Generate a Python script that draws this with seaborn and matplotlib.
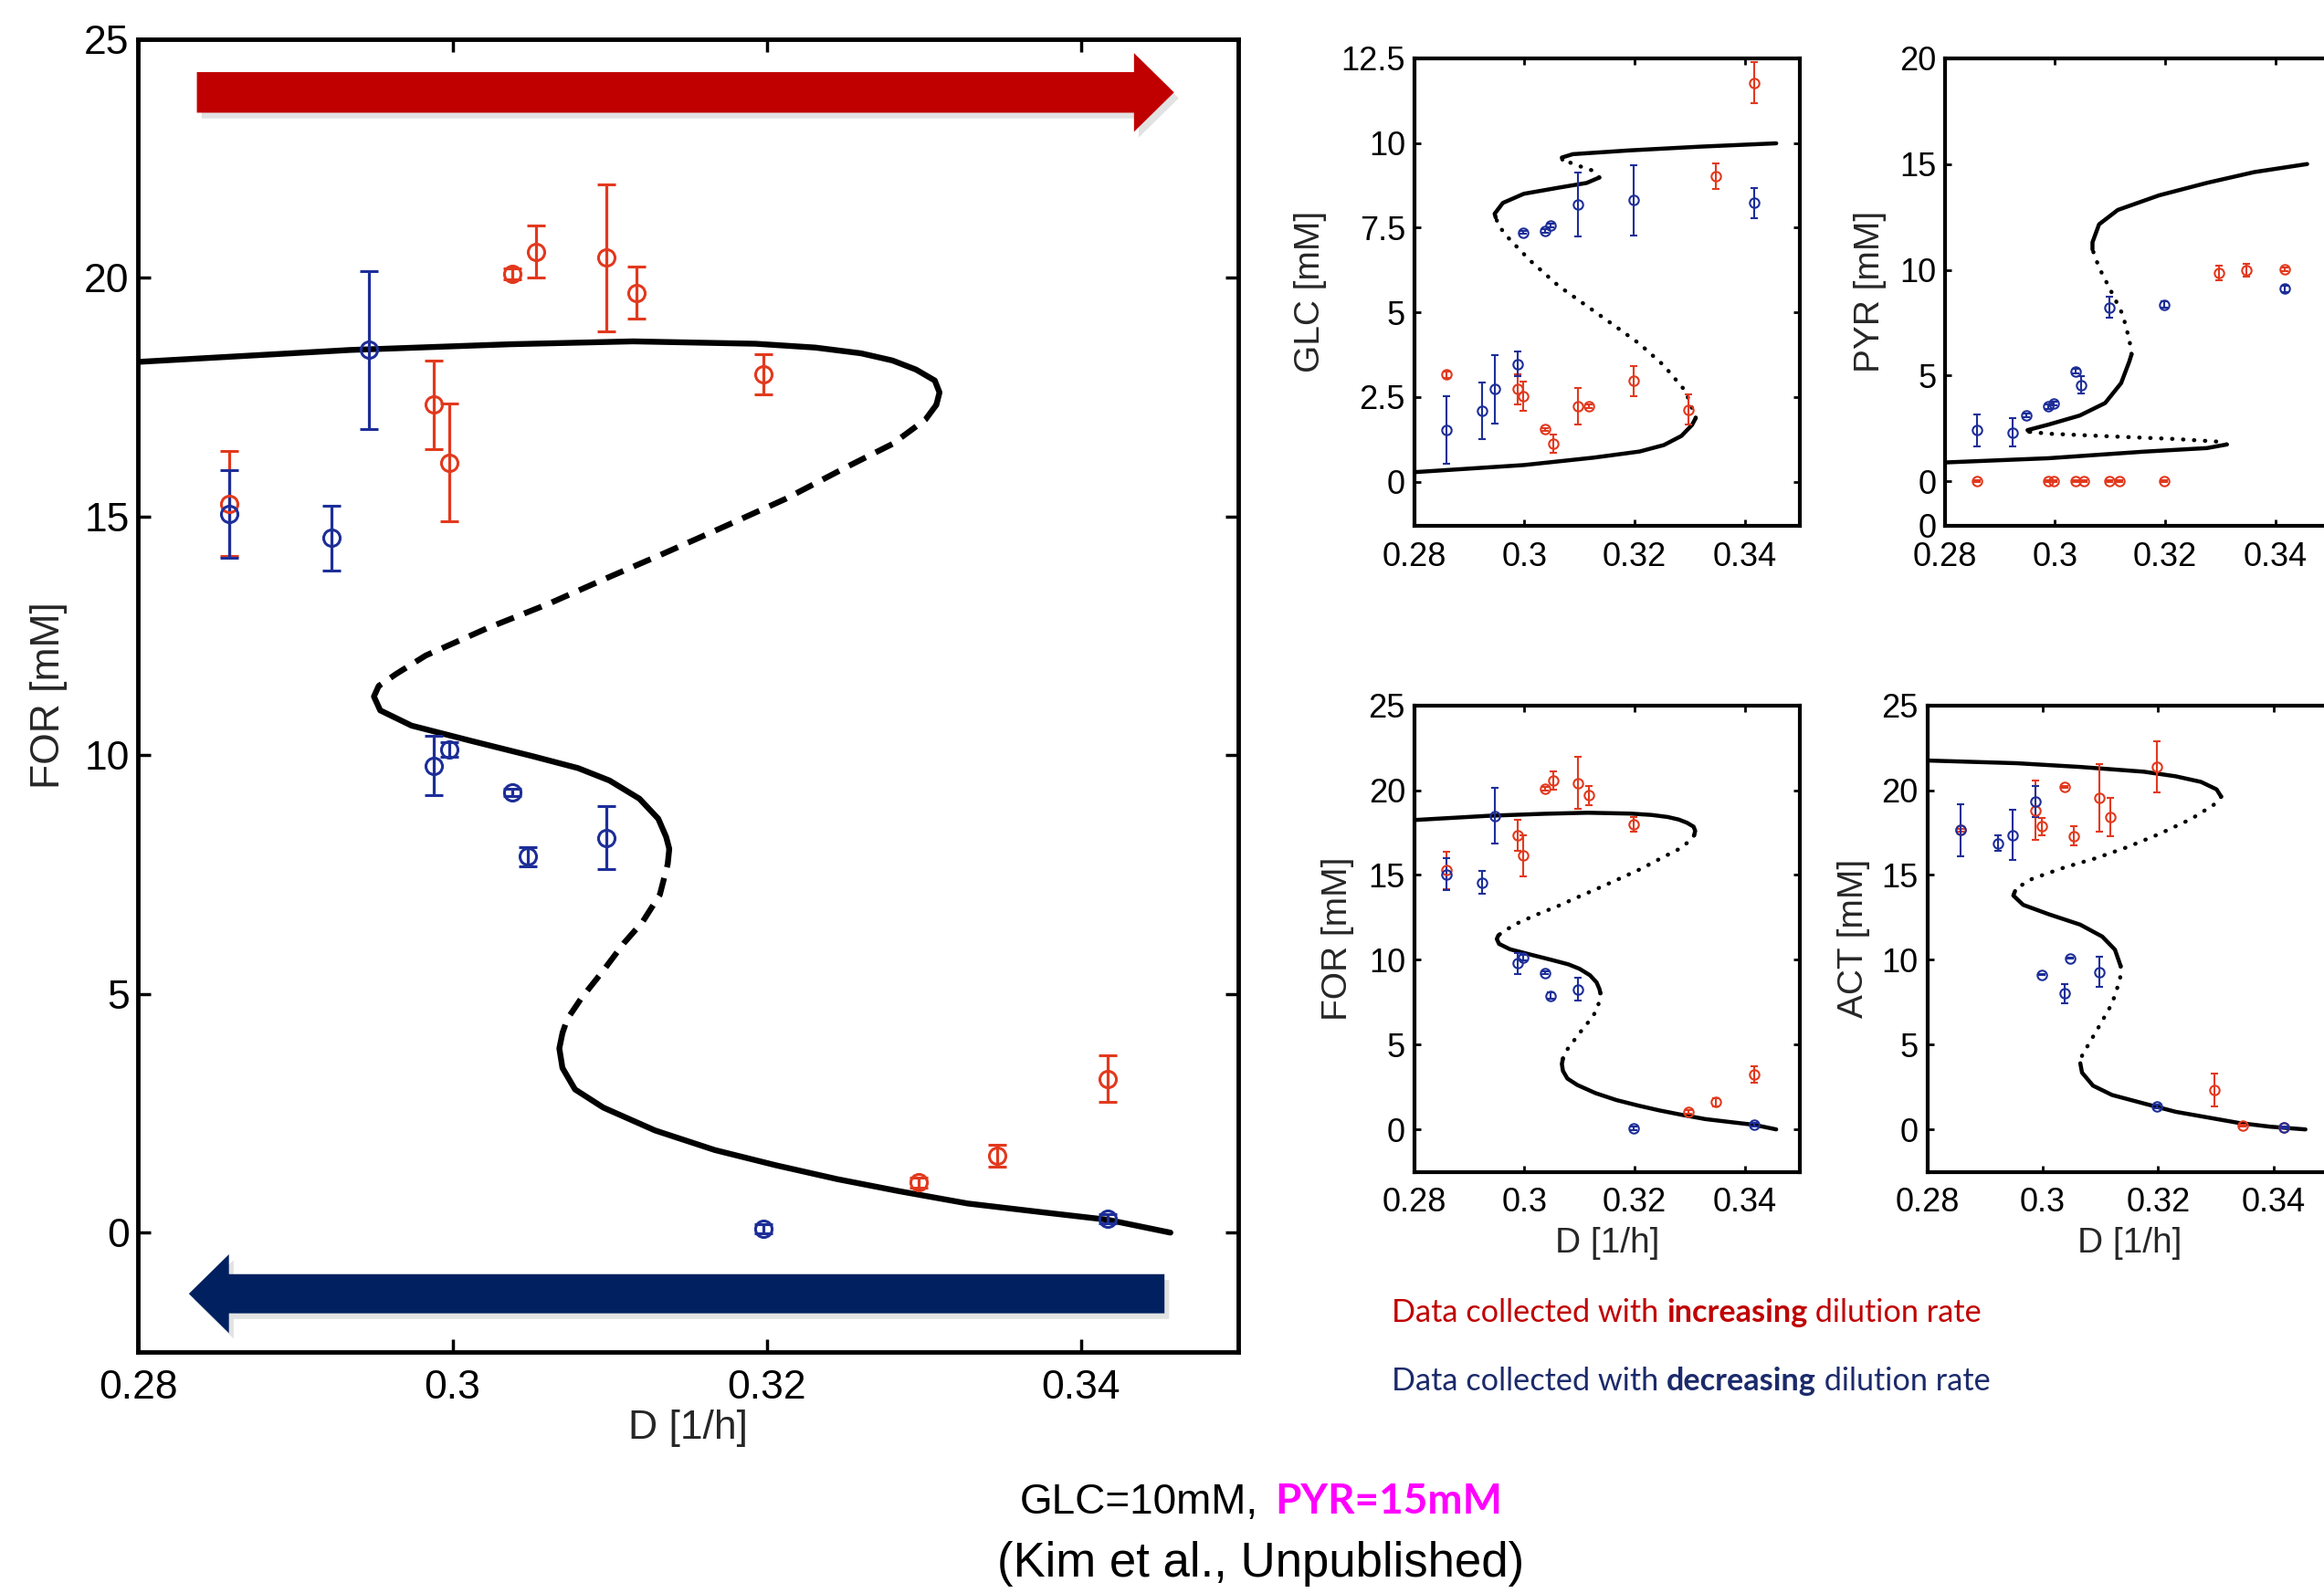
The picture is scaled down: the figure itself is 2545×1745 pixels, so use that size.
import numpy as np
import pandas as pd
import seaborn as sns
import matplotlib.pyplot as plt
from matplotlib.patches import FancyArrow

sns.set_theme(style="ticks")
plt.rcParams['font.family'] = ['Liberation Sans', 'DejaVu Sans']

# dilution rates of the measurements
D_inc = [0.2858, 0.2988, 0.2998, 0.3038, 0.3053, 0.3098, 0.3117, 0.3198, 0.3297, 0.3347, 0.3417]
D_dec = [0.2858, 0.2923, 0.2947, 0.2988, 0.2998, 0.3038, 0.3048, 0.3098, 0.3198, 0.3417]

# measured concentrations (mean, error)
FOR_inc = [15.27, 17.34, 16.13, 20.08, 20.55, 20.42, 19.69, 17.98, 1.05, 1.61, 3.22]
FOR_inc_err = [1.1, 0.93, 1.23, 0.12, 0.54, 1.54, 0.55, 0.42, 0.1, 0.23, 0.49]
FOR_dec = [15.05, 14.55, 18.49, 9.78, 10.12, 9.22, 7.88, 8.27, 0.08, 0.29]
FOR_dec_err = [0.92, 0.68, 1.66, 0.62, 0.15, 0.08, 0.2, 0.66, 0.1, 0.1]

GLC_inc = [3.16, 2.73, 2.52, 1.54, 1.13, 2.23, 2.23, 2.97, 2.13, 9.03, 11.78]
GLC_inc_err = [0.1, 0.45, 0.43, 0.05, 0.27, 0.53, 0.05, 0.45, 0.44, 0.38, 0.6]
GLC_dec = [1.53, 2.09, 2.73, 3.48, 7.36, 7.40, 7.57, 8.18, 8.31, 8.23]
GLC_dec_err = [1.0, 0.84, 1.01, 0.37, 0.05, 0.05, 0.05, 0.95, 1.03, 0.44]

PYR_inc = [0, 0, 0, 0, 0, 0, 0, 0, 9.85, 9.97, 10.02]
PYR_inc_err = [0.05, 0.05, 0.05, 0.05, 0.05, 0.05, 0.05, 0.05, 0.35, 0.3, 0.1]
PYR_dec = [2.42, 2.30, 3.11, 3.53, 3.67, 5.20, 4.56, 8.23, 8.36, 9.11]
PYR_dec_err = [0.75, 0.67, 0.1, 0.1, 0.1, 0.1, 0.42, 0.5, 0.15, 0.15]

ACT_inc = [17.64, 18.80, 17.86, 20.21, 17.31, 19.55, 18.41, 21.37, 2.32, 0.21, 0.10]
ACT_inc_err = [0.1, 1.75, 0.52, 0.05, 0.55, 1.98, 1.14, 1.5, 0.96, 0.05, 0.05]
ACT_dec = [17.64, 16.87, 17.35, 19.35, 9.13, 8.01, 10.1, 9.29, 1.37, 0.10]
ACT_dec_err = [1.55, 0.45, 1.48, 0.91, 0.05, 0.55, 0.05, 0.91, 0.1, 0.05]

# model steady states, branch by branch (stable / unstable alternate)
BRANCH_STABLE = [True, False, True, False, True]

FOR_curve_D = [
    [0.2800, 0.2935, 0.3037, 0.3115, 0.3193, 0.3231, 0.3260, 0.3280, 0.3295, 0.3307, 0.3310, 0.3308],
    [0.3308, 0.3301, 0.3280, 0.3251, 0.3212, 0.3173, 0.3134, 0.3096, 0.3061, 0.3022, 0.2983,
     0.2964, 0.2953],
    [0.2953, 0.2950, 0.2954, 0.2974, 0.3012, 0.3051, 0.3080, 0.3100, 0.3119, 0.3131, 0.3136, 0.3138],
    [0.3138, 0.3137, 0.3132, 0.3121, 0.3109, 0.3096, 0.3082, 0.3073, 0.3070],
    [0.3070, 0.3068, 0.3070, 0.3078, 0.3096, 0.3129, 0.3167, 0.3206, 0.3245, 0.3284, 0.3328,
     0.3372, 0.3417, 0.3457],
]
FOR_curve_C = [
    [18.24, 18.49, 18.61, 18.67, 18.62, 18.54, 18.42, 18.27, 18.08, 17.85, 17.60, 17.34],
    [17.34, 17.03, 16.52, 16.04, 15.37, 14.79, 14.22, 13.68, 13.17, 12.66, 12.09, 11.70, 11.45],
    [11.45, 11.23, 10.94, 10.62, 10.30, 9.98, 9.73, 9.47, 9.09, 8.67, 8.29, 8.04],
    [8.04, 7.72, 7.08, 6.51, 6.06, 5.49, 4.91, 4.47, 4.18],
    [4.18, 3.86, 3.45, 3.00, 2.62, 2.14, 1.73, 1.41, 1.12, 0.87, 0.61, 0.44, 0.27, 0.00],
]

GLC_curve_D = [
    [0.2800, 0.2999, 0.3126, 0.3209, 0.3253, 0.3285, 0.3304, 0.3311],
    [0.3311, 0.3292, 0.3253, 0.3209, 0.3164, 0.3113, 0.3062, 0.3011, 0.2973, 0.2954, 0.2948],
    [0.2948, 0.2946, 0.2961, 0.2999, 0.3062, 0.3113, 0.3136],
    [0.3136, 0.3123, 0.3094, 0.3069],
    [0.3069, 0.3068, 0.3088, 0.3190, 0.3317, 0.3457],
]
GLC_curve_C = [
    [0.28, 0.49, 0.71, 0.89, 1.08, 1.35, 1.67, 1.88],
    [1.88, 2.68, 3.43, 4.07, 4.60, 5.19, 5.78, 6.52, 7.16, 7.54, 7.80],
    [7.80, 7.91, 8.23, 8.50, 8.68, 8.82, 8.98],
    [8.98, 9.19, 9.35, 9.51],
    [9.51, 9.57, 9.67, 9.78, 9.89, 9.99],
]

PYR_curve_D = [
    [0.2800, 0.2988, 0.3161, 0.3276, 0.3312],
    [0.3312, 0.3293, 0.3218, 0.3103, 0.2988, 0.2953],
    [0.2953, 0.2950, 0.2988, 0.3045, 0.3091, 0.3120, 0.3135, 0.3139],
    [0.3139, 0.3135, 0.3123, 0.3100, 0.3080, 0.3068],
    [0.3068, 0.3068, 0.3080, 0.3114, 0.3189, 0.3276, 0.3362, 0.3458],
]
PYR_curve_C = [
    [0.89, 1.09, 1.40, 1.57, 1.74],
    [1.74, 1.88, 2.00, 2.12, 2.25, 2.34],
    [2.34, 2.42, 2.68, 3.11, 3.70, 4.64, 5.67, 6.01],
    [6.01, 6.69, 7.88, 9.08, 10.10, 10.96],
    [10.96, 11.30, 12.15, 12.83, 13.52, 14.11, 14.62, 15.00],
]

ACT_curve_D = [
    [0.2800, 0.2955, 0.3065, 0.3175, 0.3230, 0.3274, 0.3301, 0.3309],
    [0.3309, 0.3298, 0.3257, 0.3202, 0.3147, 0.3092, 0.3037, 0.2982, 0.2955, 0.2952],
    [0.2952, 0.2949, 0.2966, 0.3010, 0.3065, 0.3103, 0.3125, 0.3135],
    [0.3135, 0.3134, 0.3120, 0.3098, 0.3079, 0.3068, 0.3065],
    [0.3065, 0.3068, 0.3087, 0.3120, 0.3175, 0.3230, 0.3285, 0.3340, 0.3394, 0.3455],
]
ACT_curve_C = [
    [21.75, 21.59, 21.37, 21.09, 20.82, 20.49, 20.05, 19.62],
    [19.62, 19.18, 18.30, 17.42, 16.65, 15.99, 15.44, 14.78, 14.23, 14.05],
    [14.05, 13.79, 13.24, 12.69, 12.07, 11.37, 10.60, 9.62],
    [9.62, 8.85, 7.42, 6.10, 5.00, 4.34, 3.90],
    [3.90, 3.35, 2.58, 2.03, 1.53, 1.04, 0.71, 0.38, 0.16, 0.00],
]

# axis ticks
X_TICKS = [0.28, 0.30, 0.32, 0.34]
X_TICKLABELS = ["0.28", "0.3", "0.32", "0.34"]
FOR_TICKS = [0, 5, 10, 15, 20, 25]
FOR_TICKLABELS = ["0", "5", "10", "15", "20", "25"]
GLC_TICKS = [0, 2.5, 5, 7.5, 10, 12.5]
GLC_TICKLABELS = ["0", "2.5", "5", "7.5", "10", "12.5"]
PYR_TICKS = [-2.1, 0, 5, 10, 15, 20]
PYR_TICKLABELS = ["0", "0", "5", "10", "15", "20"]

RED = "#E2391E"
BLUE = "#1D2E98"
RED_ARROW = "#C00000"
BLUE_ARROW = "#002060"


def curve_frame(d_lists, c_lists):
    parts = []
    for i, (d, c) in enumerate(zip(d_lists, c_lists)):
        parts.append(pd.DataFrame({"D": d, "C": c, "branch": i,
                                   "stable": BRANCH_STABLE[i]}))
    return pd.concat(parts, ignore_index=True)


def draw_curve(ax, frame, lw, unstable_ls, capstyle):
    for _, sub in frame.groupby("branch"):
        stable = sub["stable"].iloc[0]
        sns.lineplot(data=sub, x="D", y="C", sort=False, estimator=None, ax=ax,
                     color="black", lw=lw,
                     linestyle="-" if stable else unstable_ls,
                     solid_capstyle="round", solid_joinstyle="round",
                     dash_capstyle=capstyle, zorder=2)


def draw_points(ax, vals, errs, d, color, ms, mew, elw, cap):
    ax.errorbar(d, vals, yerr=errs, fmt="o", mfc="none", mec=color, ecolor=color,
                ms=ms, mew=mew, elinewidth=elw, capsize=cap, capthick=elw, zorder=3)


def style_axes(ax, ylim, yticks, ylabels, size, spine_w, tlen, tw, xpad, ypad):
    ax.set_xlim(0.28, 0.35)
    ax.set_ylim(*ylim)
    ax.set_xticks(X_TICKS)
    ax.set_xticklabels(X_TICKLABELS)
    ax.set_yticks(yticks)
    ax.set_yticklabels(ylabels)
    ax.tick_params(direction="in", top=True, right=True, length=tlen, width=tw,
                   labelsize=size, colors="black")
    ax.tick_params(axis="x", pad=xpad)
    ax.tick_params(axis="y", pad=ypad)
    for sp in ax.spines.values():
        sp.set_linewidth(spine_w)
        sp.set_color("black")
    ax.set_xlabel("")
    ax.set_ylabel("")


fig = plt.figure(figsize=(25.45, 17.45), dpi=100)
fig.patch.set_facecolor("white")

# ---- main FOR panel ----
ax = fig.add_axes([0.0595, 0.1513, 0.4732, 0.8241])
for x, y, dx, w, c in [(0.28373, 23.885, 0.0622, 0.85, RED_ARROW),
                       (0.34532, -1.28, -0.0621, 0.82, BLUE_ARROW)]:
    shadow = FancyArrow(x + 0.0003, y - 0.12, dx, 0, width=w, head_width=1.65,
                        head_length=0.00255, length_includes_head=True,
                        color="#c0c0c0", alpha=0.45, lw=0, zorder=0.5)
    ax.add_patch(shadow)
    ax.add_patch(FancyArrow(x, y, dx, 0, width=w, head_width=1.65,
                            head_length=0.00255, length_includes_head=True,
                            color=c, lw=0, zorder=1))
draw_curve(ax, curve_frame(FOR_curve_D, FOR_curve_C), 4.6, (0, (3.2, 1.9)), "butt")
draw_points(ax, FOR_inc, FOR_inc_err, D_inc, RED, 13, 2.2, 2.3, 7)
draw_points(ax, FOR_dec, FOR_dec_err, D_dec, BLUE, 13, 2.2, 2.3, 7)
style_axes(ax, (-2.5, 25), FOR_TICKS, FOR_TICKLABELS, 32, 3.5, 10, 2.5, 14, 7)
ax.set_xlabel("D [1/h]", fontsize=32, va="center")
ax.xaxis.set_label_coords(0.5, -0.0584)
ax.set_ylabel("FOR [mM]", fontsize=32, va="center")
ax.yaxis.set_label_coords(-0.0817, 0.5)

# ---- small panels ----
small = [
    ([0.6085, 0.6700, 0.1660, 0.2934], GLC_curve_D, GLC_curve_C, GLC_inc, GLC_inc_err,
     GLC_dec, GLC_dec_err, (-1.3, 12.5), GLC_TICKS, GLC_TICKLABELS, "GLC [mM]", -0.270, False),
    ([0.8369, 0.6700, 0.1658, 0.2934], PYR_curve_D, PYR_curve_C, PYR_inc, PYR_inc_err,
     PYR_dec, PYR_dec_err, (-2.1, 20), PYR_TICKS, PYR_TICKLABELS, "PYR [mM]", -0.193, False),
    ([0.6085, 0.2644, 0.1660, 0.2928], FOR_curve_D, FOR_curve_C, FOR_inc, FOR_inc_err,
     FOR_dec, FOR_dec_err, (-2.5, 25), FOR_TICKS, FOR_TICKLABELS, "FOR [mM]", -0.198, True),
    ([0.8293, 0.2644, 0.1739, 0.2928], ACT_curve_D, ACT_curve_C, ACT_inc, ACT_inc_err,
     ACT_dec, ACT_dec_err, (-2.5, 25), FOR_TICKS, FOR_TICKLABELS, "ACT [mM]", -0.183, True),
]
for rect, cd, cc, vi, ei, vd, ed, ylim, yt, yl, lab, labx, show_x in small:
    sax = fig.add_axes(rect)
    draw_curve(sax, curve_frame(cd, cc), 3.2, (0, (0.1, 2.6)), "round")
    draw_points(sax, vi, ei, D_inc, RED, 7.5, 1.5, 1.5, 3)
    draw_points(sax, vd, ed, D_dec, BLUE, 7.5, 1.5, 1.5, 3)
    style_axes(sax, ylim, yt, yl, 26, 3, 5, 2, 12, 7)
    sax.set_ylabel(lab, fontsize=28, va="center")
    sax.yaxis.set_label_coords(labx, 0.5)
    if show_x:
        sax.set_xlabel("D [1/h]", fontsize=28, va="center")
        sax.xaxis.set_label_coords(0.5, -0.153)

# ---- annotations ----
ov = fig.add_axes([0, 0, 1, 1])
ov.axis("off")


def rich_text(x, y, parts, size, color, family):
    t = ov.text(x, y, parts[0][0], fontsize=size, color=color, fontweight=parts[0][1],
                family=family, va="baseline", ha="left")
    for s, w in parts[1:]:
        t = ov.annotate(s, xy=(1, 0), xycoords=t, va="bottom", ha="left",
                        fontsize=size, color=color, fontweight=w, family=family)


rich_text(0.5988, 0.1702, [("Data collected with ", "normal"), ("increasing", "bold"),
                          (" dilution rate", "normal")], 24.7, "#C00000", ["Lato", "DejaVu Sans"])
rich_text(0.5988, 0.1272, [("Data collected with ", "normal"), ("decreasing", "bold"),
                          (" dilution rate", "normal")], 24.7, "#1B2A6B", ["Lato", "DejaVu Sans"])

ov.text(0.5415, 0.0499, "GLC=10mM,", fontsize=33, color="black", ha="right", va="baseline")
ov.text(0.5485, 0.0499, "PYR=15mM", fontsize=33, color="#FF00FF", ha="left", va="baseline",
        fontweight="bold", family=["Lato", "DejaVu Sans"])
ov.text(0.5426, 0.0103, "(Kim et al., Unpublished)", fontsize=38, color="black",
        ha="center", va="baseline")

fig.savefig("out.png", dpi=100, facecolor="white")
